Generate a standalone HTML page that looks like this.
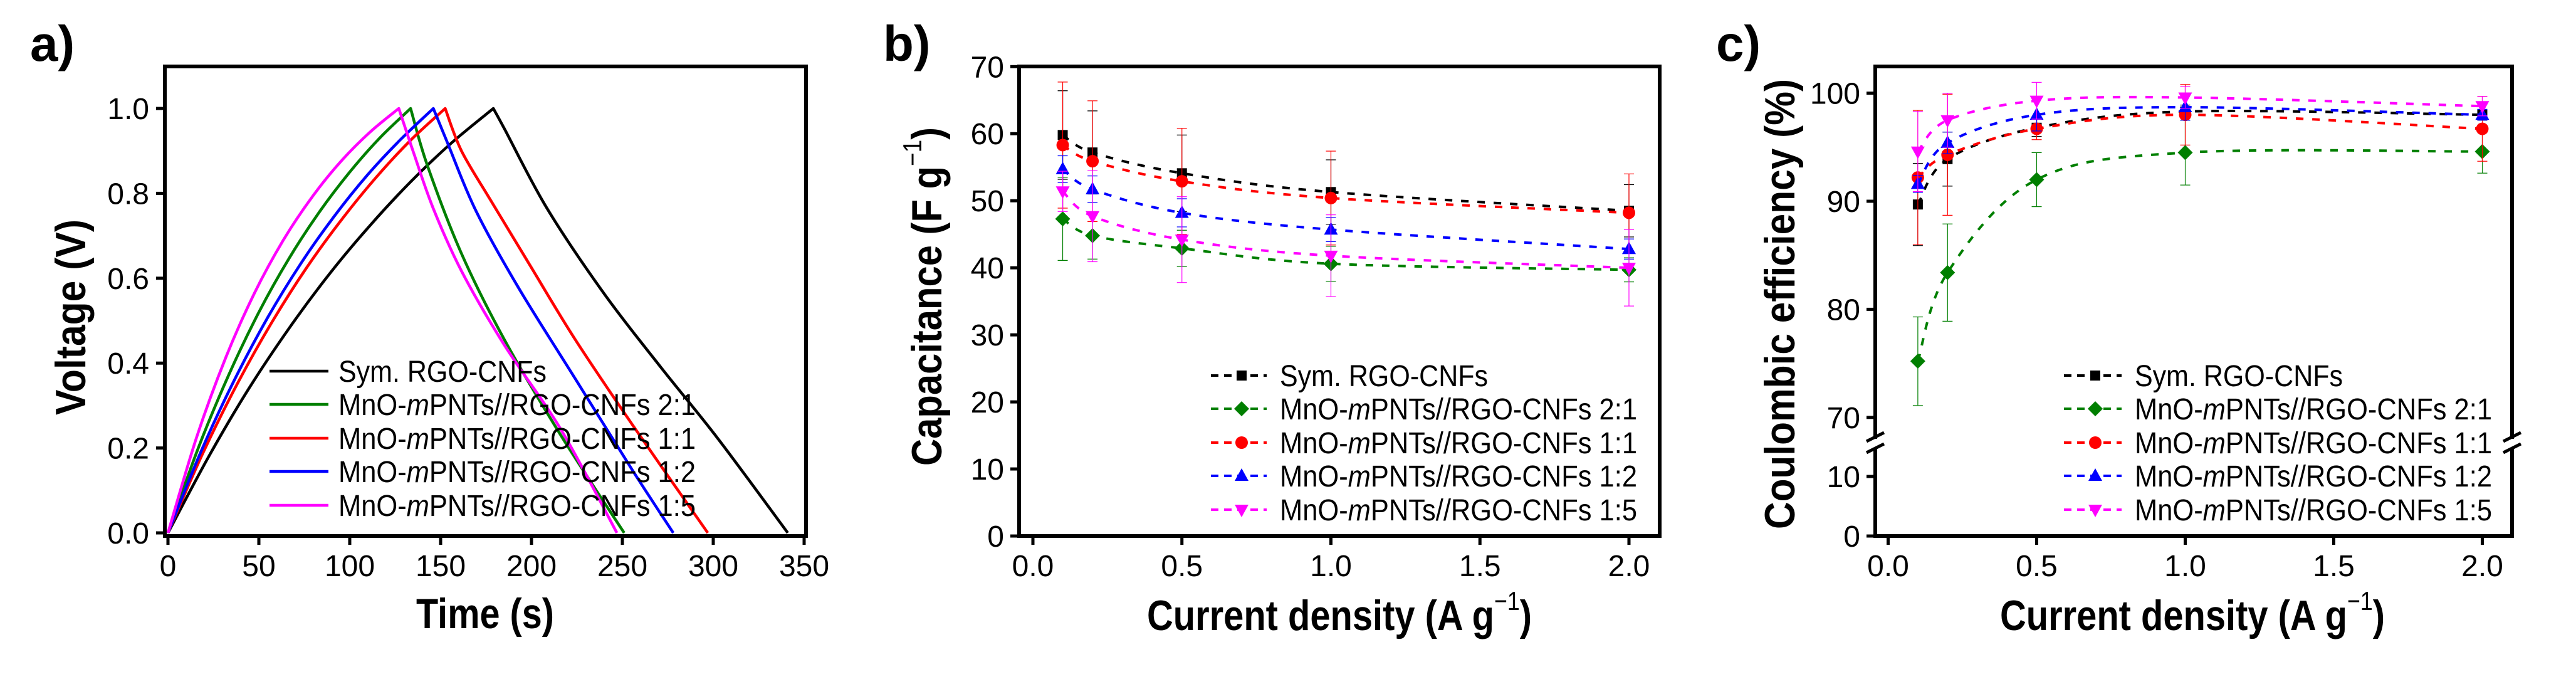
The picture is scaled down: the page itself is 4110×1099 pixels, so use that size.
<!DOCTYPE html>
<html><head><meta charset="utf-8">
<style>
html,body{margin:0;padding:0;background:#fff;}
svg{display:block;font-family:"Liberation Sans",Arial,sans-serif;}
</style></head>
<body>
<svg id="fig" width="4110" height="1099" viewBox="0 0 4110 1099" xmlns="http://www.w3.org/2000/svg">
<rect x="0" y="0" width="4110" height="1099" fill="#fff"/>
</svg>
<script>
// ---------- Panel a data ----------
const aNames = ['Sym. RGO-CNFs','MnO-mPNTs//RGO-CNFs 2:1','MnO-mPNTs//RGO-CNFs 1:1','MnO-mPNTs//RGO-CNFs 1:2','MnO-mPNTs//RGO-CNFs 1:5'];
const aColors = ['#000000','#007f00','#ff0000','#0000ff','#ff00ff'];
const aBlackT = [0,22.3,44.5,66.8,89,111.3,133.5,155.8,179,185,208.5,239.9,271.2,302.6,341];
const aBlackV = [0,0.179,0.340,0.483,0.611,0.725,0.827,0.918,1,0.953,0.765,0.564,0.39,0.222,0];
const aGreenT = [0,16.6,33.3,49.9,66.5,83.1,99.8,116.4,133.5,142.7,161.5,185,216.4,251];
const aGreenV = [0,0.199,0.371,0.519,0.646,0.755,0.849,0.930,1,0.866,0.658,0.456,0.228,0];
const aRedT = [0,19,38,57,76,95,114,133,152.5,161.5,177.2,199.1,224,255.5,297];
const aRedV = [0,0.186,0.350,0.495,0.623,0.735,0.835,0.923,1,0.90,0.786,0.631,0.456,0.255,0];
const aBlueT = [0,18.3,36.5,54.8,73,91.3,109.5,127.8,146,153.7,169.3,192.8,224.1,255.5,278];
const aBlueV = [0,0.193,0.360,0.507,0.634,0.745,0.842,0.926,1,0.92,0.76,0.578,0.363,0.148,0];
const aMagT = [0,15.9,31.8,47.6,63.5,79.4,95.3,111.1,127,134.8,145.9,161.5,185,216.4,247];
const aMagV = [0,0.227,0.413,0.565,0.690,0.792,0.876,0.944,1,0.90,0.765,0.617,0.443,0.242,0];
const aXTicks = [0,50,100,150,200,250,300,350];
const aYTicks = [0,0.2,0.4,0.6,0.8,1.0];
const aYLabels = ['0.0','0.2','0.4','0.6','0.8','1.0'];

// ---------- Panel b data ----------
const currents = [0.1,0.2,0.5,1.0,2.0];
const bSym = [59.8,57.2,54.1,51.3,48.5];
const bSymErr = [6.6,6.2,5.7,4.8,3.9];
const b21 = [47.3,44.8,42.9,40.6,39.7];
const b21Err = [6.2,3.5,2.7,2.6,1.8];
const b11 = [58.3,55.9,52.9,50.4,48.2];
const b11Err = [9.4,9.0,7.9,7.0,5.8];
const b12 = [54.7,51.7,48.2,45.7,42.8];
const b12Err = [2.0,2.0,2.1,1.8,1.5];
const b15 = [51.4,47.7,44.2,41.8,40.0];
const b15Err = [3.0,6.8,6.4,6.1,5.7];
const bYTicks = [0,10,20,30,40,50,60,70];
const xTicksBC = [0,0.5,1.0,1.5,2.0];
const xLabelsBC = ['0.0','0.5','1.0','1.5','2.0'];

// ---------- Panel c data ----------
const cSym = [89.7,93.9,96.8,98.3,98.0];
const cSymErr = [3.8,2.5,0.8,0.6,0.5];
const c21 = [75.2,83.4,92.0,94.5,94.6];
const c21Err = [4.1,4.5,2.5,3.0,2.0];
const c11 = [92.2,94.3,96.7,98.0,96.7];
const c11Err = [6.2,5.6,1.0,2.8,3.0];
const c12 = [91.6,95.4,98.0,98.7,98.0];
const c12Err = [0.8,1.0,1.5,1.2,0.5];
const c15 = [94.6,97.5,99.3,99.6,98.8];
const c15Err = [3.7,2.5,1.7,1.0,0.9];
const cYTicks = [0,10,70,80,90,100];

const NS='http://www.w3.org/2000/svg';
const svg=document.getElementById('fig');
function mk(tag,attrs,parent){const e=document.createElementNS(NS,tag);for(const k in attrs)e.setAttribute(k,attrs[k]);(parent||svg).appendChild(e);return e;}
function smooth(pts){
  if(pts.length<2)return '';
  let d='M'+pts[0][0].toFixed(1)+','+pts[0][1].toFixed(1);
  for(let i=0;i<pts.length-1;i++){
    const p0=pts[Math.max(0,i-1)],p1=pts[i],p2=pts[i+1],p3=pts[Math.min(pts.length-1,i+2)];
    const c1=[p1[0]+(p2[0]-p0[0])/6,p1[1]+(p2[1]-p0[1])/6];
    const c2=[p2[0]-(p3[0]-p1[0])/6,p2[1]-(p3[1]-p1[1])/6];
    d+='C'+c1[0].toFixed(1)+','+c1[1].toFixed(1)+' '+c2[0].toFixed(1)+','+c2[1].toFixed(1)+' '+p2[0].toFixed(1)+','+p2[1].toFixed(1);
  }
  return d;
}
function txt(x,y,s,size,anchor,weight,parent){
  const t=mk('text',{x:x,y:y,'font-size':size,'text-anchor':anchor||'middle','font-weight':weight||'normal',fill:'#000'},parent);
  t.textContent=s;return t;
}
function marker(g,shape,x,y,color){
  let e;
  if(shape==='square')e=mk('rect',{x:x-8,y:y-8,width:16,height:16,fill:color},g);
  else if(shape==='diamond')e=mk('polygon',{points:`${x},${y-12} ${x+12},${y} ${x},${y+12} ${x-12},${y}`,fill:color},g);
  else if(shape==='circle')e=mk('circle',{cx:x,cy:y,r:10,fill:color},g);
  else if(shape==='up')e=mk('polygon',{points:`${x},${y-12} ${x+11},${y+8} ${x-11},${y+8}`,fill:color},g);
  else e=mk('polygon',{points:`${x},${y+12} ${x+11},${y-8} ${x-11},${y-8}`,fill:color},g);
  return e;
}
function frame(g,x0,y0,x1,y1){
  const r=mk('rect',{x:x0,y:y0,width:x1-x0,height:y1-y0,fill:'none',stroke:'#000','stroke-width':6},g);
  
  
}
function legendText(parent,x,y,n,i){
  const t=txt(x,y,'',48,'start','normal',parent);
  t.setAttribute('textLength',i===0?'332':'570');
  t.setAttribute('lengthAdjust','spacingAndGlyphs');
  if(i===0){t.textContent=n;}
  else{const a=mk('tspan',{},t);a.textContent='MnO-';const b=mk('tspan',{'font-style':'italic'},t);b.textContent='m';const c=mk('tspan',{},t);c.textContent=n.slice(5);}
  return t;
}

// ================= Panel a =================
(function(){
  const g=mk('g',{});
  
  
  const xs=t=>268+t*2.9, ys=v=>850-v*677;
  const lab=txt(48,97,'a)',80,'start','bold',g);
  
  
  frame(g,263,106,1286,855);
  aXTicks.forEach(t=>{
    const l=mk('line',{x1:xs(t),x2:xs(t),y1:855,y2:869,stroke:'#000','stroke-width':5},g);
    
    
    const tl=txt(xs(t),919,String(t),48,'middle','normal',g);
    
    
  });
  aYTicks.forEach((v,i)=>{
    const l=mk('line',{x1:249,x2:263,y1:ys(v),y2:ys(v),stroke:'#000','stroke-width':5},g);
    
    
    const tl=txt(238,ys(v)+17,aYLabels[i],48,'end','normal',g);
    
    
  });
  const xt=txt(774,1002,'Time (s)',68,'middle','bold',g);
  xt.setAttribute('textLength','220');
  xt.setAttribute('lengthAdjust','spacingAndGlyphs');
  
  
  const yt=txt(0,0,'Voltage (V)',68,'middle','bold',g);
  yt.setAttribute('transform','translate(136,506) rotate(-90)');
  yt.setAttribute('textLength','312');
  yt.setAttribute('lengthAdjust','spacingAndGlyphs');
  
  
  const series=[[aBlackT,aBlackV],[aGreenT,aGreenV],[aRedT,aRedV],[aBlueT,aBlueV],[aMagT,aMagV]];
  series.forEach((s,i)=>{
    const T=s[0],V=s[1];
    let peak=V.indexOf(1);
    const up=[],down=[];
    for(let k=0;k<=peak;k++)up.push([xs(T[k]),ys(V[k])]);
    for(let k=peak;k<T.length;k++)down.push([xs(T[k]),ys(V[k])]);
    const p=mk('path',{d:smooth(up)+' '+smooth(down).replace('M','L'),fill:'none',stroke:aColors[i],'stroke-width':4.5,'stroke-linejoin':'round'},g);
    
    
  });
  const rows=[592,645,699,752,806];
  aNames.forEach((n,i)=>{
    const lg=mk('g',{},g);
    
    
    mk('line',{x1:430,x2:524,y1:rows[i],y2:rows[i],stroke:aColors[i],'stroke-width':4.5},lg);
    legendText(lg,540,rows[i]+17,n,i);
  });
})();

// ================= Panels b & c shared =================
const bcNames=aNames;
const bcShapes=['square','diamond','circle','up','down'];
function drawLegend(g,lx0,lx1,mx,tx){
  const rows=[599,652,706,759,813];
  bcNames.forEach((n,i)=>{
    const lg=mk('g',{},g);
    
    
    mk('line',{x1:lx0,x2:lx1,y1:rows[i],y2:rows[i],stroke:aColors[i],'stroke-width':4,'stroke-dasharray':'12 9'},lg);
    marker(lg,bcShapes[i],mx,rows[i],aColors[i]);
    legendText(lg,tx,rows[i]+17,n,i);
  });
}
function drawSeries(g,xs,ys,vals,errs,i){
  const sg=mk('g',{},g);
  
  
  const pts=currents.map((c,k)=>[xs(c),ys(vals[k])]);
  mk('path',{d:smooth(pts),fill:'none',stroke:aColors[i],'stroke-width':4,'stroke-dasharray':'12 14'},sg);
  currents.forEach((c,k)=>{
    const x=xs(c),yt=ys(vals[k]+errs[k]),yb=ys(vals[k]-errs[k]);
    mk('line',{x1:x,x2:x,y1:yt,y2:yb,stroke:aColors[i],'stroke-width':1.2},sg);
    mk('line',{x1:x-8,x2:x+8,y1:yt,y2:yt,stroke:aColors[i],'stroke-width':1.2},sg);
    mk('line',{x1:x-8,x2:x+8,y1:yb,y2:yb,stroke:aColors[i],'stroke-width':1.2},sg);
  });
  currents.forEach((c,k)=>{
    const m=marker(sg,bcShapes[i],xs(c),ys(vals[k]),aColors[i]);
    
    
  });
}
function xAxisBC(g,xs){
  xTicksBC.forEach((v,i)=>{
    const l=mk('line',{x1:xs(v),x2:xs(v),y1:855,y2:869,stroke:'#000','stroke-width':5},g);
    
    
    const tl=txt(xs(v),919,xLabelsBC[i],48,'middle','normal',g);
    
    
  });
}
function titleCD(g,cx){
  const t=txt(cx,1005,'',68,'middle','bold',g);
  t.setAttribute('textLength','614');
  t.setAttribute('lengthAdjust','spacingAndGlyphs');
  
  
  const a=mk('tspan',{},t);a.textContent='Current density (A g';
  const b=mk('tspan',{'font-size':42,'font-weight':'normal',dy:-32},t);b.textContent='\u22121';
  const c=mk('tspan',{dy:32},t);c.textContent=')';
}

// ================= Panel b =================
(function(){
  const g=mk('g',{});
  
  
  const xs=x=>1648+x*475.5, ys=v=>855-v*10.696;
  const lab=txt(1409,97,'b)',80,'start','bold',g);
  
  
  frame(g,1626,106,2648,855);
  xAxisBC(g,xs);
  bYTicks.forEach(v=>{
    const l=mk('line',{x1:1612,x2:1626,y1:ys(v),y2:ys(v),stroke:'#000','stroke-width':5},g);
    
    
    const tl=txt(1602,ys(v)+17,String(v),48,'end','normal',g);
    
    
  });
  titleCD(g,2137);
  const yt=txt(0,0,'',68,'middle','bold',g);
  yt.setAttribute('transform','translate(1502,473) rotate(-90)');
  yt.setAttribute('textLength','540');
  yt.setAttribute('lengthAdjust','spacingAndGlyphs');
  
  
  const a=mk('tspan',{},yt);a.textContent='Capacitance (F g';
  const b=mk('tspan',{'font-size':42,'font-weight':'normal',dy:-32},yt);b.textContent='\u22121';
  const c=mk('tspan',{dy:32},yt);c.textContent=')';
  const vals=[bSym,b21,b11,b12,b15], errs=[bSymErr,b21Err,b11Err,b12Err,b15Err];
  vals.forEach((v,i)=>drawSeries(g,xs,ys,v,errs[i],i));
  drawLegend(g,1932,2021,1981,2042);
})();

// ================= Panel c =================
(function(){
  const g=mk('g',{});
  
  
  const xs=x=>3012.5+x*474;
  const ys=v=>v>=40?148.6+(100-v)*17.24:855-v*9.5;
  const lab=txt(2738,97,'c)',80,'start','bold',g);
  
  
  frame(g,2992,106,4008,855);
  const br=mk('g',{},g);
  
  
  mk('rect',{x:2980,y:700,width:24,height:14,fill:'#fff'},br);
  mk('rect',{x:3996,y:700,width:24,height:14,fill:'#fff'},br);
  [2992,4008].forEach(x=>{
    mk('line',{x1:x-14,y1:704,x2:x+14,y2:690,stroke:'#000','stroke-width':5},br);
    mk('line',{x1:x-14,y1:722,x2:x+14,y2:708,stroke:'#000','stroke-width':5},br);
  });
  xAxisBC(g,xs);
  cYTicks.forEach(v=>{
    const l=mk('line',{x1:2978,x2:2992,y1:ys(v),y2:ys(v),stroke:'#000','stroke-width':5},g);
    
    
    const tl=txt(2968,ys(v)+17,String(v),48,'end','normal',g);
    
    
  });
  titleCD(g,3498);
  const yt=txt(0,0,'Coulombic efficiency (%)',68,'middle','bold',g);
  yt.setAttribute('transform','translate(2863,485) rotate(-90)');
  yt.setAttribute('textLength','718');
  yt.setAttribute('lengthAdjust','spacingAndGlyphs');
  
  
  const vals=[cSym,c21,c11,c12,c15], errs=[cSymErr,c21Err,c11Err,c12Err,c15Err];
  vals.forEach((v,i)=>drawSeries(g,xs,ys,v,errs[i],i));
  drawLegend(g,3293,3385,3343,3406);
})();
</script>
</body></html>
